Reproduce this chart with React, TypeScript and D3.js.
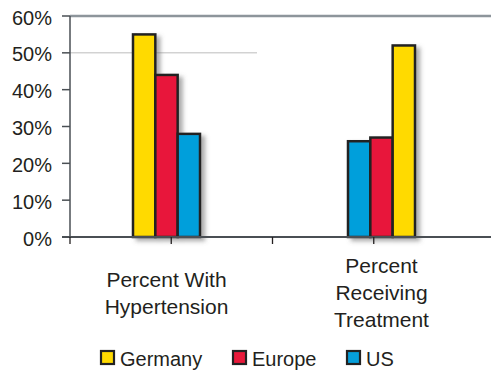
import React from "react";
import * as d3 from "d3";

// Chart data
const categories = ["Percent With Hypertension", "Percent Receiving Treatment"];
const categoryLines = [
  ["Percent With", "Hypertension"],
  ["Percent", "Receiving", "Treatment"],
];
const seriesNames = ["Germany", "Europe", "US"];
const germany = [55, 52];
const europe = [44, 27];
const us = [28, 26];
// Order in which the series appear inside each category group
const seriesOrder = [
  ["Germany", "Europe", "US"],
  ["US", "Europe", "Germany"],
];
const yTicks = [0, 10, 20, 30, 40, 50, 60];

const colors: Record<string, string> = {
  Germany: "#FFDA00",
  Europe: "#E8193A",
  US: "#059FDB",
};

const values: Record<string, number[]> = { Germany: germany, Europe: europe, US: us };

const W = 491;
const H = 371;
const plotLeft = 70;
const plotRight = 491;
const plotTop = 16;
const plotBottom = 237;

export default function App() {
  const y = d3.scaleLinear().domain([0, 60]).range([plotBottom, plotTop]);
  const x = d3.scaleBand<string>().domain(categories).range([59, 489]).padding(0);
  const groupWidth = 67;
  const tickScale = d3.scaleLinear().domain([0, 4]).range([plotLeft, 475]);
  const bottomTicks = [0, 1, 2, 3];
  const font = "'Liberation Sans', Arial, sans-serif";

  const legendX = [100, 232, 346];

  return (
    <svg
      width={W}
      height={H}
      style={{ position: "absolute", left: 0, top: 0, display: "block", background: "#fff" }}
    >
      <defs>
        <filter id="barShadow" x="-30%" y="-10%" width="160%" height="130%">
          <feDropShadow dx="4" dy="3" stdDeviation="2" floodColor="#6b6b6b" floodOpacity="0.55" />
        </filter>
      </defs>

      {/* partial 50% gridline */}
      <line x1={plotLeft} x2={257} y1={y(50)} y2={y(50)} stroke="#bdbdbd" strokeWidth={1} />

      {/* top frame line */}
      <line x1={plotLeft} x2={plotRight} y1={plotTop} y2={plotTop} stroke="#8d959b" strokeWidth={2.5} />

      {/* bars */}
      {categories.map((cat, ci) => {
        const cx = (x(cat) as number) + x.bandwidth() / 2;
        const inner = d3
          .scaleBand<string>()
          .domain(seriesOrder[ci])
          .range([cx - groupWidth / 2, cx + groupWidth / 2]);
        return (
          <g key={cat} filter="url(#barShadow)">
            {seriesOrder[ci].map((s) => {
              const v = values[s][ci];
              return (
                <rect
                  key={s}
                  x={inner(s)}
                  y={y(v)}
                  width={inner.bandwidth()}
                  height={y(0) - y(v)}
                  fill={colors[s]}
                  stroke="#222"
                  strokeWidth={2.5}
                />
              );
            })}
          </g>
        );
      })}

      {/* y axis */}
      <line x1={plotLeft} x2={plotLeft} y1={plotTop} y2={plotBottom} stroke="#4a4f54" strokeWidth={1.5} />
      {yTicks.map((t) => (
        <g key={t}>
          <line x1={62} x2={plotLeft} y1={y(t)} y2={y(t)} stroke="#4a4f54" strokeWidth={1.5} />
          <text
            x={52}
            y={y(t) + 8.5}
            textAnchor="end"
            fontFamily={font}
            fontSize={20}
            fill="#231f20"
          >
            {t}%
          </text>
        </g>
      ))}

      {/* x axis */}
      <line x1={62} x2={plotRight} y1={plotBottom} y2={plotBottom} stroke="#4a4f54" strokeWidth={1.8} />
      {bottomTicks.map((t) => (
        <line
          key={t}
          x1={tickScale(t)}
          x2={tickScale(t)}
          y1={plotBottom}
          y2={plotBottom + 7}
          stroke="#231f20"
          strokeWidth={1.3}
        />
      ))}

      {/* category labels */}
      {categories.map((cat, ci) => {
        const cx = (x(cat) as number) + x.bandwidth() / 2;
        const lines = categoryLines[ci];
        const firstBaseline = lines.length === 2 ? 287 : 273;
        return (
          <text key={cat} textAnchor="middle" fontFamily={font} fontSize={21} fill="#231f20">
            {lines.map((ln, li) => (
              <tspan key={li} x={cx} y={firstBaseline + li * 27}>
                {ln}
              </tspan>
            ))}
          </text>
        );
      })}

      {/* legend */}
      {seriesNames.map((s, i) => (
        <g key={s} transform={`translate(${legendX[i]},350)`}>
          <rect x={1} y={1} width={13} height={13} fill={colors[s]} stroke="#222" strokeWidth={2.2} />
          <text x={20} y={16} fontFamily={font} fontSize={20} fill="#231f20">
            {s}
          </text>
        </g>
      ))}
    </svg>
  );
}
